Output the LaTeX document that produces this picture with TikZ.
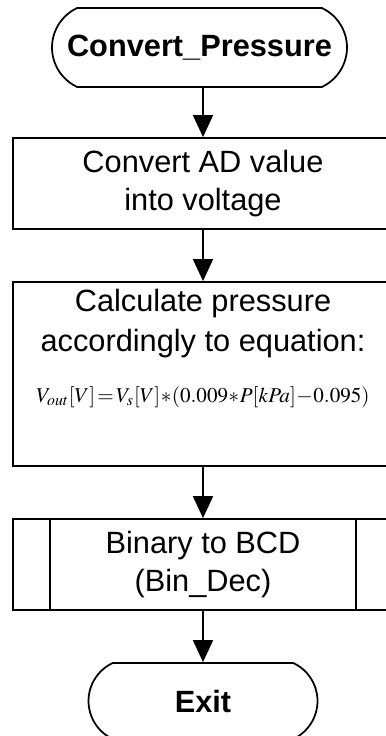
\documentclass[tikz,border=0pt]{standalone}
\usepackage{mathptmx}
\usepackage[no-math]{fontspec}
\setmainfont{Liberation Sans}
\usetikzlibrary{arrows.meta,shapes.misc}

\begin{document}
\begin{tikzpicture}[font=\fontsize{17.5}{22}\selectfont,>={Triangle[length=0.44cm,width=0.4cm]},line width=1pt,
  terminal/.style={draw,rounded rectangle,rounded rectangle arc length=130,inner sep=0pt,minimum height=1.58cm,font=\fontsize{17.5}{22}\selectfont\bfseries},
  procbox/.style={draw,rectangle,inner sep=0pt,minimum width=7.6cm,align=center},
  flow/.style={->}]
\useasboundingbox (0,0) rectangle (7.72,14.72);
\node[terminal,minimum width=5.9cm] (start) at (3.99,13.77){Convert\_Pressure};
\node[procbox,minimum height=1.82cm] (conv) at (4.06,11.05){Convert AD value\\[0pt]into voltage};
\node[procbox,minimum height=3.68cm] (calc) at (4.06,7.24){};
\node[anchor=north,align=center,inner sep=0pt] (calctext) at ([yshift=-0.14cm]calc.north){Calculate pressure\\[1pt]accordingly to equation:\\[7pt]{\fontsize{12}{14}\selectfont$V_{out}[V]\!=\!V_s[V]\!*\!(0.009\!*\!P[kPa]\!-\!0.095)$}};
\node[procbox,minimum height=1.82cm] (bcd) at (4.06,3.43){Binary to BCD\\[0pt](Bin\_Dec)};
\draw[line width=0.8pt] ([xshift=0.76cm]bcd.north west) -- ([xshift=0.76cm]bcd.south west);
\draw[line width=0.8pt] ([xshift=-0.76cm]bcd.north east) -- ([xshift=-0.76cm]bcd.south east);
\node[terminal,minimum width=4.58cm,minimum height=1.52cm] (exit) at (4.06,0.70){Exit};
\draw[flow] (conv.north |- start.south) -- (conv.north);
\draw[flow] (conv) -- (calc);
\draw[flow] (calc) -- (bcd);
\draw[flow] (bcd) -- (exit);
\end{tikzpicture}
\end{document}
